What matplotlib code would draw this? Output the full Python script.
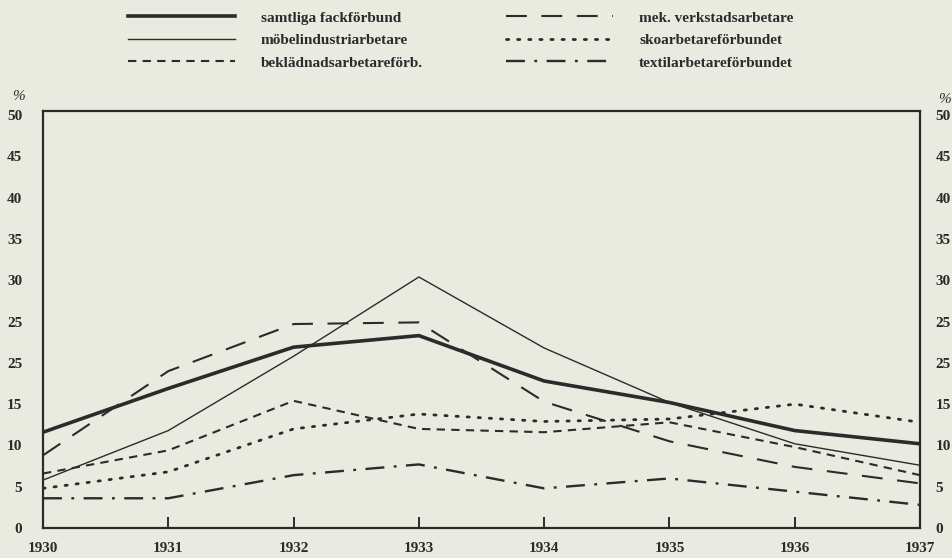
import numpy as np
import matplotlib
matplotlib.use("Agg")
import matplotlib.pyplot as plt

years = [1930, 1931, 1932, 1933, 1934, 1935, 1936, 1937]

samtliga = [11.6, 16.9, 21.9, 23.3, 17.8, 15.2, 11.8, 10.2]
mobel = [5.8, 11.8, 20.8, 30.4, 21.8, 15.2, 10.2, 7.6]
bekladnad = [6.6, 9.4, 15.4, 12.0, 11.6, 12.8, 9.8, 6.4]
mek = [8.8, 19.0, 24.7, 24.9, 15.3, 10.5, 7.4, 5.4]
sko = [4.8, 6.8, 12.0, 13.8, 12.9, 13.2, 15.0, 12.8]
textil = [3.6, 3.6, 6.4, 7.7, 4.8, 6.0, 4.4, 2.8]

ytick_vals = [0, 5, 10, 15, 20, 25, 30, 35, 40, 45, 50]
ytick_labels = ["0", "5", "10", "15", "25", "25", "30", "35", "40", "45", "50"]

paper = "#e9ebe1"
ink = "#2b2b2b"

plt.rcParams['font.family'] = ['Liberation Serif', 'DejaVu Serif']

fig = plt.figure(figsize=(9.53, 5.58), dpi=100, facecolor=paper)
ax = fig.add_axes([43/953, 30/558, (920-43)/953, (528-111)/558])
ax.set_facecolor(paper)

l1, = ax.plot(years, samtliga, color=ink, lw=2.6, ls="-", label="samtliga fackförbund")
l2, = ax.plot(years, mobel, color=ink, lw=1.0, ls="-", label="möbelindustriarbetare")
l3, = ax.plot(years, bekladnad, color=ink, lw=1.5, ls=(0, (4, 3)), label="beklädnadsarbetareförb.")
l4, = ax.plot(years, mek, color=ink, lw=1.5, ls=(0, (10, 7)), label="mek. verkstadsarbetare")
l5, = ax.plot(years, sko, color=ink, lw=2.0, ls=(0, (0.8, 3.2)), dash_capstyle="round", label="skoarbetareförbundet")
l6, = ax.plot(years, textil, color=ink, lw=1.7, ls=(0, (8, 4, 1.2, 4)), label="textilarbetareförbundet")

ax.set_xlim(1930, 1937)
ax.set_ylim(0, 50.5)

for s in ax.spines.values():
    s.set_color(ink)
    s.set_linewidth(1.6)

ax.set_xticks(years)
ax.set_xticklabels([str(y) for y in years], fontsize=11, fontweight="bold", color=ink)
ax.tick_params(axis="x", direction="in", length=8, width=1.4, color=ink, pad=10)

ax.set_yticks(ytick_vals)
ax.set_yticklabels(ytick_labels, fontsize=11, fontweight="bold", color=ink)
ax.tick_params(axis="y", which="major", length=0, pad=15)
ax.set_yticks([20, 30], minor=True)
ax.tick_params(axis="y", which="minor", direction="in", length=7, width=1.2, color=ink)

ax2 = ax.twinx()
ax2.set_ylim(ax.get_ylim())
ax2.set_yticks(ytick_vals)
ax2.set_yticklabels(ytick_labels, fontsize=11, fontweight="bold", color=ink)
ax2.tick_params(axis="y", which="major", length=0, pad=11)
ax2.set_yticks([20, 30, 40], minor=True)
ax2.tick_params(axis="y", which="minor", direction="in", length=7, width=1.2, color=ink)
for s in ax2.spines.values():
    s.set_visible(False)

fig.text(12/953, 1 - 97/558, "%", fontsize=11, color=ink, style="italic", ha="left", va="center")
fig.text(938/953, 1 - 99/558, "%", fontsize=11, color=ink, style="italic", ha="left", va="center")

leg = fig.legend(handles=[l1, l2, l3, l4, l5, l6], ncol=2, loc="upper left",
                 bbox_to_anchor=(128/953, 1 - 11/558), frameon=False,
                 fontsize=11, handlelength=7.0, handletextpad=1.7,
                 labelspacing=0.58, columnspacing=5.45, borderpad=0, borderaxespad=0)
for t in leg.get_texts():
    t.set_color(ink)
    t.set_fontweight("bold")

fig.savefig("out.png", dpi=100, facecolor=paper)
